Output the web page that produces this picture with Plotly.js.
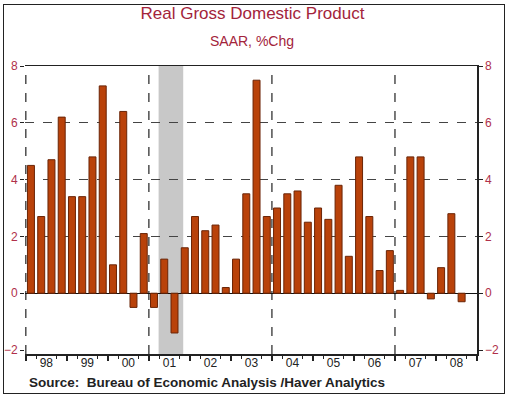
<!DOCTYPE html>
<html><head><meta charset="utf-8">
<script src="https://cdn.plot.ly/plotly-3.0.1.min.js"></script>
<style>
html,body{margin:0;padding:0;background:#fff;}
#chart{position:absolute;left:0;top:0;width:510px;height:397px;}
#frame{position:absolute;left:3px;top:4px;width:502px;height:390px;box-sizing:border-box;border:1.5px solid #222;pointer-events:none;}
</style>
</head><body>
<div id="chart"></div>
<div id="frame"></div>
<script>
// Year labels (1998..2008), quarterly data from 1998Q1
const years = ['98','99','00','01','02','03','04','05','06','07','08'];
const gdpGrowth = [
  4.5, 2.7, 4.7, 6.2,
  3.4, 3.4, 4.8, 7.3,
  1.0, 6.4, -0.5, 2.1,
  -0.5, 1.2, -1.4, 1.6,
  2.7, 2.2, 2.4, 0.2,
  1.2, 3.5, 7.5, 2.7,
  3.0, 3.5, 3.6, 2.5,
  3.0, 2.6, 3.8, 1.3,
  4.8, 2.7, 0.8, 1.5,
  0.1, 4.8, 4.8, -0.2,
  0.9, 2.8, -0.3
];
// recession span in quarters since 1998Q1 (Mar 2001 - Nov 2001)
const recession = [12.95, 15.35];
const yTicks = [-2, 0, 2, 4, 6, 8];
const yGridVals = [2, 4, 6];
const xGridYears = [0, 12, 24, 36];

const nQ = years.length * 4;
const xPos = gdpGrowth.map((_, i) => i + 0.5);
const yearBounds = years.map((_, i) => i * 4).concat([nQ]);
const yearCenters = years.map((_, i) => i * 4 + 2);
const quarterTicks = [];
years.forEach((_, i) => { quarterTicks.push(i * 4 + 1, i * 4 + 3); });
const yRange = [-2.14, 8];
const xRange = [-0.08, nQ];

const FONT = 'Liberation Sans, Arial, sans-serif';
const RED = '#A3243B';
const TICKRED = '#B0304A';

const traces = [
  {type: 'bar', x: xPos, y: gdpGrowth, width: 0.68,
   marker: {color: '#B9420A', line: {color: '#6A2406', width: 1}},
   hoverinfo: 'y', showlegend: false},
  {type: 'scatter', x: [null], y: [null], xaxis: 'x2', yaxis: 'y', hoverinfo: 'skip', showlegend: false},
  {type: 'scatter', x: [null], y: [null], xaxis: 'x', yaxis: 'y2', hoverinfo: 'skip', showlegend: false}
];

const gridShapes = xGridYears.map(v => ({
  type: 'line', xref: 'x', yref: 'paper', x0: v, x1: v, y0: 0, y1: 1,
  line: {color: '#333', width: 1.3, dash: 'dash'}, layer: 'below'
}));

const layout = {
  width: 510, height: 397,
  margin: {l: 25, r: 33, t: 66, b: 43},
  paper_bgcolor: '#fff', plot_bgcolor: '#fff',
  font: {family: FONT},
  bargap: 0,
  title: {text: 'Real Gross Domestic Product', font: {family: FONT, size: 17, color: RED},
          x: 0.495, xanchor: 'center', xref: 'container', y: 1 - 13.5 / 397, yanchor: 'middle', yref: 'container'},
  xaxis: {range: xRange, tickmode: 'array', tickvals: yearBounds, ticks: 'outside', ticklen: 5,
          tickwidth: 1.5, tickcolor: '#222', showticklabels: false, showgrid: false, zeroline: false,
          showline: true, linecolor: '#222', linewidth: 1.5, mirror: true, fixedrange: true,
          minor: {tickmode: 'array', tickvals: quarterTicks, ticks: 'outside', ticklen: 3, tickwidth: 1, tickcolor: '#222', showgrid: false}},
  xaxis2: {overlaying: 'x', anchor: 'y', side: 'bottom', range: xRange, tickmode: 'array',
           tickvals: yearCenters, ticktext: years, ticks: '', showgrid: false, zeroline: false, showline: false,
           tickfont: {family: FONT, size: 12, color: '#222'}, fixedrange: true},
  yaxis: {range: yRange, tickmode: 'array', tickvals: yTicks, ticks: 'outside', ticklen: 4, tickcolor: '#222',
          tickwidth: 1, showgrid: false, zeroline: true, zerolinecolor: '#111', zerolinewidth: 1.3, showline: false,
          tickfont: {family: FONT, size: 12, color: TICKRED}, fixedrange: true,
          minor: {tickmode: 'array', tickvals: yGridVals, showgrid: true, griddash: 'dash', gridcolor: '#444', gridwidth: 1.3, ticks: ''}},
  yaxis2: {overlaying: 'y', side: 'right', anchor: 'x', range: yRange, tickmode: 'array', tickvals: yTicks,
           ticks: 'outside', ticklen: 4, tickcolor: '#222', tickwidth: 1, showgrid: false, zeroline: false,
           showline: true, linecolor: '#222', linewidth: 1.5,
           tickfont: {family: FONT, size: 12, color: TICKRED}, fixedrange: true},
  shapes: [
    {type: 'rect', xref: 'x', yref: 'paper', x0: recession[0], x1: recession[1], y0: 0, y1: 1,
     fillcolor: '#C8C8C8', line: {width: 0}, layer: 'below'}
  ].concat(gridShapes),
  annotations: [
    {text: 'SAAR, %Chg', xref: 'paper', yref: 'paper', x: 0.502, y: 1.087, xanchor: 'center', yanchor: 'middle',
     showarrow: false, font: {family: FONT, size: 14, color: RED}},
    {text: 'Source:  Bureau of Economic Analysis /Haver Analytics', xref: 'paper', yref: 'paper',
     x: 0.0044, y: -0.099, xanchor: 'left', yanchor: 'middle', showarrow: false,
     font: {family: FONT, size: 13.5, color: '#222', weight: 'bold'}}
  ]
};

Plotly.newPlot('chart', traces, layout, {displayModeBar: false, staticPlot: true});
</script>
</body></html>
